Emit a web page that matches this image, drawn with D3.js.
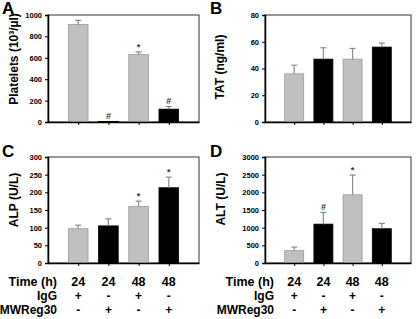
<!DOCTYPE html>
<html>
<head>
<meta charset="utf-8">
<script src="https://cdn.jsdelivr.net/npm/d3@7/dist/d3.min.js"></script>
<style>
  body { margin: 0; background: #fff; }
  svg { display: block; font-family: "Liberation Sans", Arial, sans-serif; }
</style>
</head>
<body>
<div id="chart"></div>
<script>
// four panels, same groups (24h IgG, 24h MWReg30, 48h IgG, 48h MWReg30)
const groupTime = ['24', '24', '48', '48'];
const groupIgG = ['+', '-', '+', '-'];
const groupMWReg = ['-', '+', '-', '+'];
const groupTreated = [false, true, false, true];

const plateletsMean = [910, 5, 630, 120];
const plateletsErr = [40, 0, 25, 25];
const plateletsMark = ['', '#', '*', '#'];

const tatMean = [36, 47, 47, 56];
const tatErr = [6.5, 8.5, 8, 3];
const tatMark = ['', '', '', ''];

const alpMean = [97, 105, 160, 213];
const alpErr = [10, 20, 15, 30];
const alpMark = ['', '', '*', '*'];

const altMean = [350, 1100, 1930, 970];
const altErr = [100, 330, 560, 150];
const altMark = ['', '#', '*', ''];

const CONFIG = {
    WIDTH: 416,
    HEIGHT: 319,
    GRAY: '#c0c0c0',
    GRAY_EDGE: '#9a9a9a',
    BLACK: '#000',
    ERR_COLOR: '#8a8a8a',
    BAR_FRAC: 0.65,
};

const panels = [
  { letter: 'A', label: 'Platelets (10³/µl)', mean: plateletsMean, err: plateletsErr, mark: plateletsMark,
    max: 1000, step: 200, box: [48, 199, 15, 122], lx: 14, ly: 59, letterPos: [2, 14] },
  { letter: 'B', label: 'TAT (ng/ml)', mean: tatMean, err: tatErr, mark: tatMark,
    max: 80, step: 20, box: [265, 411, 15, 122], lx: 220, ly: 67, letterPos: [210, 14] },
  { letter: 'C', label: 'ALP (U/L)', mean: alpMean, err: alpErr, mark: alpMark,
    max: 300, step: 50, box: [48, 199, 157, 263], lx: 14, ly: 200, letterPos: [2, 157] },
  { letter: 'D', label: 'ALT (U/L)', mean: altMean, err: altErr, mark: altMark,
    max: 3000, step: 500, box: [265, 411, 157, 263], lx: 221, ly: 199, letterPos: [210, 157] },
];

const svg = d3.select('#chart')
  .append('svg')
  .attr('width', CONFIG.WIDTH)
  .attr('height', CONFIG.HEIGHT);

panels.forEach(p => drawPanel(p));

// bottom legend rows under C and D
[[48, 199, 57], [265, 411, 274]].forEach(([x0, x1, labelRight]) => {
  const x = d3.scaleLinear().domain([0, 5]).range([x0, x1]);
  const rows = [
    { name: 'Time (h)', vals: groupTime, y: 286, size: 12.5 },
    { name: 'IgG', vals: groupIgG, y: 300, size: 12 },
    { name: 'MWReg30', vals: groupMWReg, y: 314, size: 12 },
  ];
  rows.forEach(r => {
    svg.append('text')
      .attr('x', labelRight).attr('y', r.y)
      .attr('text-anchor', 'end')
      .attr('font-size', r.size).attr('font-weight', 'bold')
      .text(r.name);
    svg.selectAll(null)
      .data(r.vals)
      .join('text')
      .attr('x', (d, i) => x(i + 1))
      .attr('y', r.y)
      .attr('text-anchor', 'middle')
      .attr('font-size', r.size).attr('font-weight', 'bold')
      .text(d => d);
  });
});

function drawPanel(p) {
  const [x0, x1, y0, y1] = p.box;
  const x = d3.scaleLinear().domain([0, 5]).range([x0, x1]);
  const y = d3.scaleLinear().domain([0, p.max]).range([y1, y0]);
  const bw = (x1 - x0) / 5 * CONFIG.BAR_FRAC;
  const g = svg.append('g');

  // frame
  g.append('rect')
    .attr('x', x0).attr('y', y0)
    .attr('width', x1 - x0).attr('height', y1 - y0)
    .attr('fill', 'none').attr('stroke', '#333').attr('stroke-width', 1);

  // bars
  g.selectAll('rect.bar')
    .data(p.mean)
    .join('rect')
    .attr('class', 'bar')
    .attr('x', (d, i) => x(i + 1) - bw / 2)
    .attr('y', d => y(d))
    .attr('width', bw)
    .attr('height', d => y(0) - y(d))
    .attr('fill', (d, i) => groupTreated[i] ? CONFIG.BLACK : CONFIG.GRAY)
    .attr('stroke', (d, i) => groupTreated[i] ? CONFIG.BLACK : CONFIG.GRAY_EDGE)
    .attr('stroke-width', 0.8);

  // error bars (upper only)
  p.mean.forEach((m, i) => {
    if (!p.err[i]) return;
    const cx = x(i + 1);
    g.append('line')
      .attr('x1', cx).attr('x2', cx)
      .attr('y1', y(m)).attr('y2', y(m + p.err[i]))
      .attr('stroke', CONFIG.ERR_COLOR).attr('stroke-width', 1.2);
    g.append('line')
      .attr('x1', cx - 3).attr('x2', cx + 3)
      .attr('y1', y(m + p.err[i])).attr('y2', y(m + p.err[i]))
      .attr('stroke', CONFIG.ERR_COLOR).attr('stroke-width', 1.2);
  });

  // significance marks
  g.selectAll('text.mark')
    .data(p.mark)
    .join('text')
    .attr('class', 'mark')
    .attr('x', (d, i) => x(i + 1))
    .attr('y', (d, i) => y(p.mean[i] + p.err[i]) - 2)
    .attr('text-anchor', 'middle')
    .attr('font-size', 9).attr('font-weight', 'bold')
    .attr('fill', '#333')
    .text(d => d);

  // y axis
  const yAxis = d3.axisLeft(y)
    .tickValues(d3.range(0, p.max + 1, p.step))
    .tickSize(3).tickPadding(3)
    .tickFormat(d3.format('d'));
  const ya = g.append('g').attr('transform', `translate(${x0},0)`).call(yAxis);
  ya.select('.domain').attr('stroke-width', 1.5).attr('stroke', '#000');
  ya.selectAll('text').attr('font-size', 7.5).attr('font-weight', 'bold')
    .attr('font-family', '"Liberation Sans", Arial, sans-serif');

  // x axis (ticks at bar centres, no labels)
  const xAxis = d3.axisBottom(x)
    .tickValues([1, 2, 3, 4])
    .tickSize(3).tickSizeOuter(0)
    .tickFormat('');
  const xa = g.append('g').attr('transform', `translate(0,${y1})`).call(xAxis);
  xa.select('.domain').attr('stroke-width', 1.5).attr('stroke', '#000');

  // y label
  g.append('text')
    .attr('transform', `translate(${p.lx},${p.ly}) rotate(-90)`)
    .attr('text-anchor', 'middle')
    .attr('dominant-baseline', 'central')
    .attr('font-size', 12).attr('font-weight', 'bold')
    .text(p.label);

  // panel letter
  g.append('text')
    .attr('x', p.letterPos[0]).attr('y', p.letterPos[1])
    .attr('font-size', 17).attr('font-weight', 'bold')
    .text(p.letter);
}
</script>
</body>
</html>
